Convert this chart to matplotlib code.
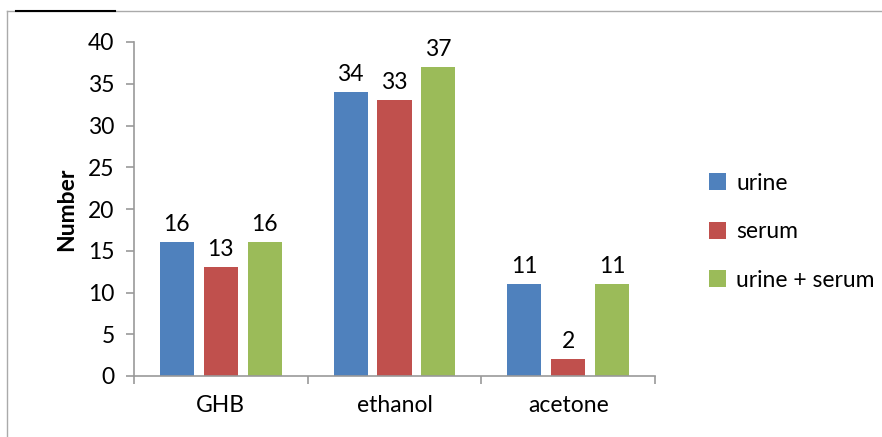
import numpy as np
import matplotlib
matplotlib.use('Agg')
from matplotlib import pyplot as plt
from matplotlib.lines import Line2D

plt.rcParams['font.family'] = ['Lato', 'DejaVu Sans']

categories = ['GHB', 'ethanol', 'acetone']
series = ['urine', 'serum', 'urine + serum']
urine = [16, 34, 11]
serum = [13, 33, 2]
both = [16, 37, 11]
colors = ['#4F81BD', '#C0504D', '#9BBB59']

fig = plt.figure(figsize=(8.82, 4.37), dpi=100)
ax = fig.add_axes([134/882, 1-376/437, (655-134)/882, (376-42)/437])

x = np.arange(len(categories))
width = 0.196
step = 0.253
for i, (vals, name) in enumerate(zip([urine, serum, both], series)):
    pos = x + (i-1)*step
    ax.bar(pos, vals, width, color=colors[i], label=name)
    for p, v in zip(pos, vals):
        ax.text(p, v+0.9, str(v), ha='center', va='bottom', fontsize=16.5)

ax.set_xlim(-0.5, 2.5)
ax.set_ylim(0, 40)
ax.set_yticks(range(0, 41, 5))
ax.set_xticks(x)
ax.set_xticklabels(categories, fontsize=16.5)
ax.set_xticks([-0.5, 0.5, 1.5, 2.5], minor=True)
ax.tick_params(axis='x', which='major', length=0, pad=14)
ax.tick_params(axis='x', which='minor', length=6, color='#999999', width=1.2)
ax.tick_params(axis='y', labelsize=16.5, length=6, color='#999999', width=1.2, pad=8)
for s in ['top', 'right']:
    ax.spines[s].set_visible(False)
for s in ['left', 'bottom']:
    ax.spines[s].set_color('#999999')
    ax.spines[s].set_linewidth(1.2)
ax.set_ylabel('Number', fontsize=16.5, fontweight='bold', labelpad=8)

leg = fig.legend(loc='upper left', bbox_to_anchor=(688/882, 1-152/437), frameon=False,
                 fontsize=16.5, handlelength=0.75, handleheight=0.75, labelspacing=1.2,
                 handletextpad=0.45)

# frame pieces from the original
fig.add_artist(Line2D([7/882, 1], [1-11/437, 1-11/437], color='#aaaaaa', lw=1))
fig.add_artist(Line2D([7/882, 7/882], [0, 1-11/437], color='#aaaaaa', lw=1))
fig.add_artist(Line2D([16/882, 115/882], [1-11/437, 1-11/437], color='black', lw=1.5))

fig.savefig('out.png', dpi=100)
